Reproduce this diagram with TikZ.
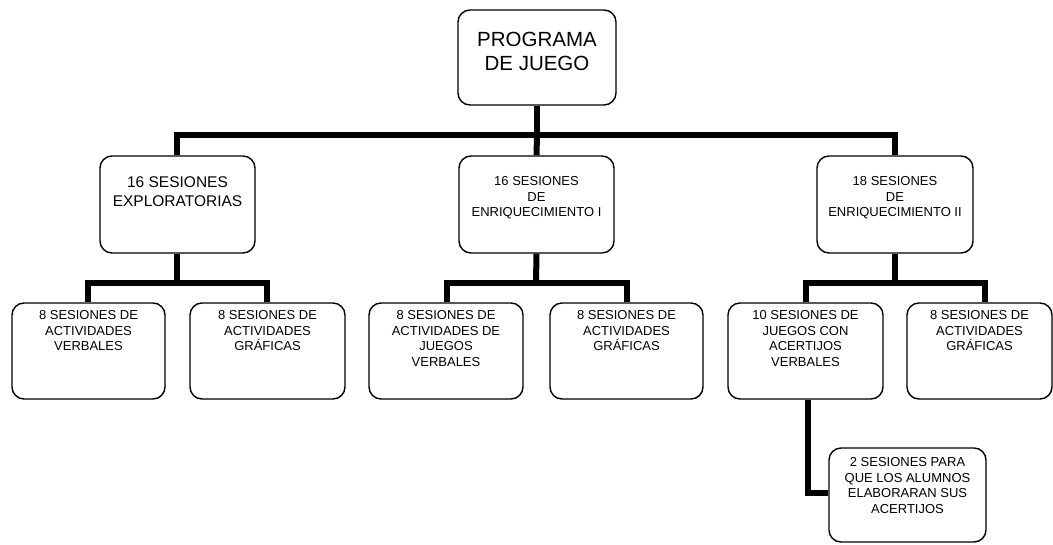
\documentclass[tikz,border=0pt]{standalone}
\usepackage{fontspec}
\setmainfont{Liberation Sans}
\usetikzlibrary{backgrounds}
\begin{document}
\begin{tikzpicture}[x=1pt,y=-1pt,
  box/.style={draw=black, line width=1.4pt, rounded corners=12pt, fill=white, inner sep=0pt},
  conn/.style={draw=black, line width=6pt, line join=miter},
  txt/.style={anchor=north, align=center, inner sep=0pt},
  big/.style={font=\fontsize{20.5}{24}\selectfont},
  mid/.style={font=\fontsize{15.5}{18.5}\selectfont},
  sml/.style={font=\fontsize{13}{15.5}\selectfont}]
\useasboundingbox (0,0) rectangle (1053,544);
% bar coordinates
\coordinate (bar1) at (537,135);
\coordinate (bar2a) at (177,283);
\coordinate (bar2b) at (536,283);
\coordinate (bar2c) at (895,283);
% boxes
\node[box, minimum width=158pt, minimum height=95pt] (top) at (537,57.5) {};
\node[box, minimum width=155pt, minimum height=97pt] (l2a) at (177.5,204.5) {};
\node[box, minimum width=155pt, minimum height=97pt] (l2b) at (536.5,204.5) {};
\node[box, minimum width=156pt, minimum height=97pt] (l2c) at (895,204.5) {};
\node[box, minimum width=153pt, minimum height=96pt] (l3a) at (88.5,351) {};
\node[box, minimum width=155pt, minimum height=96pt] (l3b) at (267.5,351) {};
\node[box, minimum width=154pt, minimum height=96pt] (l3c) at (446,351) {};
\node[box, minimum width=153pt, minimum height=96pt] (l3d) at (626.5,351) {};
\node[box, minimum width=155pt, minimum height=96pt] (l3e) at (805.5,351) {};
\node[box, minimum width=145pt, minimum height=96pt] (l3f) at (979.5,351) {};
\node[box, minimum width=157pt, minimum height=94pt] (l4) at (907.5,495) {};
% connectors behind the boxes
\begin{scope}[on background layer]
\draw[conn] (top.south) -- (top.south |- bar1);
\draw[conn] ([xshift=-0.5pt]l2a.north) |- (bar1) -| (l2c.north);
\draw[conn] (bar1) -- (l2b.north);
\draw[conn] ([xshift=-0.5pt]l2a.south) -- (bar2a);
\draw[conn] ([xshift=-0.5pt]l3a.north) |- (bar2a) -| ([xshift=-0.5pt]l3b.north);
\draw[conn] (l2b.south) -- (bar2b);
\draw[conn] ([xshift=1pt]l3c.north) |- (bar2b) -| (l3d.north);
\draw[conn] (l2c.south) -- (bar2c);
\draw[conn] ([xshift=0.5pt]l3e.north) |- (bar2c) -| ([xshift=5.5pt]l3f.north);
\draw[conn] ([xshift=2.5pt]l3e.south) |- ([yshift=2pt]l4.west);
\end{scope}
% texts
\node[txt, big] (ttop) at ([yshift=-22.5pt]top.north) {PROGRAMA\\DE JUEGO};
\node[txt, mid] (tl2a) at ([yshift=-21.5pt]l2a.north) {16 SESIONES\\EXPLORATORIAS};
\node[txt, sml] (tl2b) at ([yshift=-21.3pt]l2b.north) {16 SESIONES\\DE\\ENRIQUECIMIENTO I};
\node[txt, sml] (tl2c) at ([yshift=-21.3pt]l2c.north) {18 SESIONES\\DE\\ENRIQUECIMIENTO II};
\node[txt, sml] (tl3a) at ([yshift=-8.3pt]l3a.north) {8 SESIONES DE\\ACTIVIDADES\\VERBALES};
\node[txt, sml] (tl3b) at ([yshift=-8.3pt]l3b.north) {8 SESIONES DE\\ACTIVIDADES\\GRÁFICAS};
\node[txt, sml] (tl3c) at ([yshift=-8.3pt]l3c.north) {8 SESIONES DE\\ACTIVIDADES DE\\JUEGOS\\VERBALES};
\node[txt, sml] (tl3d) at ([yshift=-8.3pt]l3d.north) {8 SESIONES DE\\ACTIVIDADES\\GRÁFICAS};
\node[txt, sml] (tl3e) at ([yshift=-8.3pt]l3e.north) {10 SESIONES DE\\JUEGOS CON\\ACERTIJOS\\VERBALES};
\node[txt, sml] (tl3f) at ([yshift=-8.3pt]l3f.north) {8 SESIONES DE\\ACTIVIDADES\\GRÁFICAS};
\node[txt, sml] (tl4) at ([yshift=-10.3pt]l4.north) {2 SESIONES PARA\\QUE LOS ALUMNOS\\ELABORARAN SUS\\ACERTIJOS};
\end{tikzpicture}
\end{document}
